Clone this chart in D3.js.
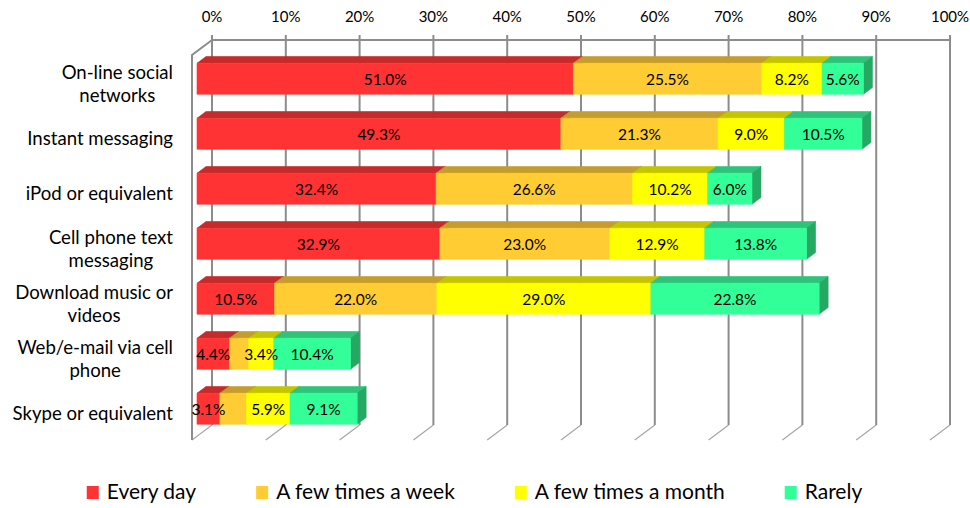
<!DOCTYPE html>
<html>
<head>
<meta charset="utf-8">
<script src="https://cdn.jsdelivr.net/npm/d3@7"></script>
<style>
  html, body { margin: 0; padding: 0; background: #fff; }
  svg { display: block; font-family: Lato, "Open Sans", sans-serif; }
</style>
</head>
<body>
<svg id="chart" width="970" height="508"></svg>
<script>
// ---- data ----
const categories = [
  "On-line social networks",
  "Instant messaging",
  "iPod or equivalent",
  "Cell phone text messaging",
  "Download music or videos",
  "Web/e-mail via cell phone",
  "Skype or equivalent"
];
const seriesNames = ["Every day", "A few times a week", "A few times a month", "Rarely"];
const everyDay      = [51.0, 49.3, 32.4, 32.9, 10.5, 4.4, 3.1];
const fewTimesWeek  = [25.5, 21.3, 26.6, 23.0, 22.0, 2.6, 3.6];
const fewTimesMonth = [8.2, 9.0, 10.2, 12.9, 29.0, 3.4, 5.9];
const rarely        = [5.6, 10.5, 6.0, 13.8, 22.8, 10.4, 9.1];
// which data labels are displayed (the two small "a few times a week" values are unlabeled)
const labelShown = [
  [true, true, true, true, true, true, true],
  [true, true, true, true, true, false, false],
  [true, true, true, true, true, true, true],
  [true, true, true, true, true, true, true]
];
const tickValues = [0, 10, 20, 30, 40, 50, 60, 70, 80, 90, 100];

// ---- styles ----
const frontColors = ["#FF3333", "#FFCC33", "#FFFF00", "#33FF99"];
const topColors   = ["#C62B2B", "#C49D2D", "#C4C400", "#2DC47A"];
const sideColors  = ["#B02626", "#A8862A", "#A8A800", "#24A862"];
const gridColor = "#8c8c8c";

const svg = d3.select("#chart");
const series = [everyDay, fewTimesWeek, fewTimesMonth, rarely];

// 3D oblique projection: depth vector per unit = (+1, -0.75)
const wallDepth = 20, barFront = 5, barBack = 14;
const x = d3.scaleLinear().domain([0, 100]).range([192, 930]);
const y = d3.scaleBand().domain(categories).range([55, 440])
  .paddingInner(0.436).paddingOuter(0.218);
const P = (v, yy, dz) => [x(v) + dz, yy - 0.75 * dz];
const poly = pts => pts.map(p => p.join(",")).join(" ");

const plotTop = 55, plotBottom = 440;

// ---- walls & gridlines ----
const g = svg.append("g");
// floor grid diagonals
g.selectAll("line.floor").data(tickValues).enter().append("line")
  .attr("class", "floor")
  .attr("x1", d => P(d, plotBottom, 0)[0]).attr("y1", d => P(d, plotBottom, 0)[1])
  .attr("x2", d => P(d, plotBottom, wallDepth)[0]).attr("y2", d => P(d, plotBottom, wallDepth)[1])
  .attr("stroke", "#a6a6a6").attr("stroke-width", 1.2);
// back wall vertical gridlines (with small tick above)
g.selectAll("line.grid").data(tickValues).enter().append("line")
  .attr("class", "grid")
  .attr("x1", d => P(d, plotTop, wallDepth)[0]).attr("y1", P(0, plotTop, wallDepth)[1] - 5)
  .attr("x2", d => P(d, plotBottom, wallDepth)[0]).attr("y2", P(0, plotBottom, wallDepth)[1])
  .attr("stroke", gridColor).attr("stroke-width", 2);
// top line of back wall
g.append("line")
  .attr("x1", P(0, plotTop, wallDepth)[0]).attr("y1", P(0, plotTop, wallDepth)[1])
  .attr("x2", P(100, plotTop, wallDepth)[0]).attr("y2", P(100, plotTop, wallDepth)[1])
  .attr("stroke", gridColor).attr("stroke-width", 2);
// left side wall
g.append("polyline")
  .attr("points", poly([P(0, plotTop, wallDepth), P(0, plotTop, 0), P(0, plotBottom, 0)]))
  .attr("fill", "none").attr("stroke", gridColor).attr("stroke-width", 2);

// ---- tick labels ----
svg.append("g").selectAll("text").data(tickValues).enter().append("text")
  .attr("x", d => P(d, plotTop, wallDepth)[0])
  .attr("y", 22)
  .attr("text-anchor", "middle")
  .attr("font-size", 15)
  .attr("fill", "#000")
  .text(d => d + "%");

// ---- bars ----
const bars = svg.append("g");
categories.forEach((cat, i) => {
  const yt = y(cat), yb = y(cat) + y.bandwidth();
  let cum = 0;
  series.forEach((s, k) => {
    const v0 = cum, v1 = cum + s[i];
    cum = v1;
    const seg = bars.append("g");
    const face = (pts, col) => seg.append("polygon").attr("points", poly(pts))
      .attr("fill", col).attr("stroke", col).attr("stroke-width", 0.6).attr("stroke-linejoin", "round");
    face([P(v0, yt, barFront), P(v1, yt, barFront), P(v1, yt, barBack), P(v0, yt, barBack)], topColors[k]);
    face([P(v1, yt, barFront), P(v1, yt, barBack), P(v1, yb, barBack), P(v1, yb, barFront)], sideColors[k]);
    face([P(v0, yt, barFront), P(v1, yt, barFront), P(v1, yb, barFront), P(v0, yb, barFront)], frontColors[k]);
  });
});
// data labels (on top of all bars)
const labels = svg.append("g");
categories.forEach((cat, i) => {
  const yc = y(cat) + y.bandwidth() / 2 - 0.75 * barFront;
  let cum = 0;
  series.forEach((s, k) => {
    const v0 = cum, v1 = cum + s[i];
    cum = v1;
    if (!labelShown[k][i]) return;
    labels.append("text")
      .attr("x", (x(v0) + x(v1)) / 2 + barFront)
      .attr("y", yc + 6.5)
      .attr("text-anchor", "middle")
      .attr("font-size", 15.5)
      .attr("fill", "#000")
      .text(s[i].toFixed(1) + "%");
  });
});

// ---- category labels (wrapped, centered block, right edge at axis) ----
const catG = svg.append("g");
const catFont = 18.6;
const wrapWidth = 175, lineH = 22.5, labelRight = 173, capH = 13.4;
categories.forEach(cat => {
  const yc = y(cat) + y.bandwidth() / 2 - 0.75 * barFront + 5;
  // greedy wrap
  const words = cat.split(" ");
  const tmp = catG.append("text").attr("font-size", catFont);
  const lines = [];
  let cur = "";
  words.forEach(w => {
    const test = cur ? cur + " " + w : w;
    tmp.text(test);
    if (tmp.node().getComputedTextLength() > wrapWidth && cur) { lines.push(cur); cur = w; }
    else cur = test;
  });
  lines.push(cur);
  const widths = lines.map(l => { tmp.text(l); return tmp.node().getComputedTextLength(); });
  tmp.remove();
  const maxW = d3.max(widths);
  const cx = labelRight - maxW / 2;
  const firstBase = yc + capH / 2 - (lines.length - 1) * lineH / 2;
  const t = catG.append("text").attr("font-size", catFont).attr("fill", "#000").attr("text-anchor", "middle");
  lines.forEach((l, j) => {
    t.append("tspan").attr("x", cx).attr("y", firstBase + j * lineH).text(l);
  });
});

// ---- legend ----
const leg = svg.append("g");
const items = seriesNames.map((name, k) => {
  const it = leg.append("g");
  it.append("rect").attr("x", 0).attr("y", -13).attr("width", 12).attr("height", 13).attr("fill", frontColors[k]);
  const t = it.append("text").attr("x", 20).attr("y", 0).attr("font-size", 21).attr("fill", "#000").text(name);
  return { g: it, w: 20 + t.node().getComputedTextLength() };
});
const gap = 60;
const total = d3.sum(items, d => d.w) + gap * (items.length - 1);
let lx = 474.5 - total / 2;
items.forEach(it => { it.g.attr("transform", `translate(${lx},499)`); lx += it.w + gap; });
</script>
</body>
</html>
